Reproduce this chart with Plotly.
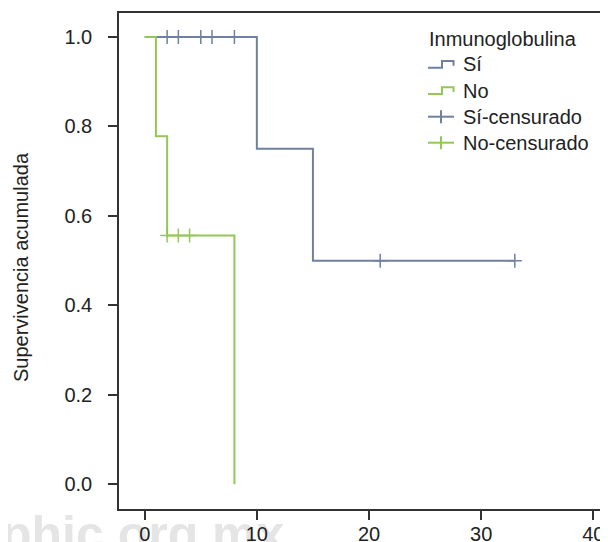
import plotly.graph_objects as go

# ---------------- data ----------------
si_time = [0, 10, 15, 33]
si_surv = [1.0, 0.75, 0.5, 0.5]
si_cens_time = [2, 3, 5, 6, 8, 21, 33]
si_cens_surv = [1.0, 1.0, 1.0, 1.0, 1.0, 0.5, 0.5]

no_time = [0, 1, 2, 8]
no_surv = [1.0, 0.778, 0.556, 0.0]
no_cens_time = [2, 3, 4]
no_cens_surv = [0.556, 0.556, 0.556]

x_tick_vals = [0, 10, 20, 30, 40]
y_tick_vals = [0.0, 0.2, 0.4, 0.6, 0.8, 1.0]
y_tick_text = ["0.0", "0.2", "0.4", "0.6", "0.8", "1.0"]

legend_title = "Inmunoglobulina"
legend_labels = ["Sí", "No", "Sí-censurado", "No-censurado"]

# ---------------- style ----------------
BLUE = "#70809E"
GREEN = "#93C857"
TXT = "#222222"
FONT = "Liberation Sans, Arial, Helvetica, sans-serif"
FS = 20

OFF = 8  # page body margin
W, H = 608 - OFF, 542 - OFF
# plot area edges in window pixels
L, R, T, B = 119, 608, 13, 509


def px(x):
    return (x - L) / (R - L)


def py(y):
    return (B - y) / (B - T)


fig = go.Figure()

fig.add_trace(go.Scatter(x=si_time, y=si_surv, mode="lines", line_shape="hv",
                         line=dict(color=BLUE, width=2), showlegend=False,
                         hoverinfo="skip"))
fig.add_trace(go.Scatter(x=no_time, y=no_surv, mode="lines", line_shape="hv",
                         line=dict(color=GREEN, width=2), showlegend=False,
                         hoverinfo="skip"))
fig.add_trace(go.Scatter(x=si_cens_time, y=si_cens_surv, mode="markers",
                         marker=dict(symbol="cross-thin", size=10,
                                     line=dict(color=BLUE, width=1.5)),
                         showlegend=False, hoverinfo="skip"))
fig.add_trace(go.Scatter(x=no_cens_time, y=no_cens_surv, mode="markers",
                         marker=dict(symbol="cross-thin", size=10,
                                     line=dict(color=GREEN, width=1.5)),
                         showlegend=False, hoverinfo="skip"))

shapes = []
annotations = []

# manual legend
leg_y = [64.3, 90.5, 116.7, 142.7]
leg_cols = [BLUE, GREEN, BLUE, GREEN]
annotations.append(dict(text=legend_title, xref="paper", yref="paper",
                        x=px(427), y=py(39), xanchor="left", yanchor="middle",
                        showarrow=False, font=dict(family=FONT, size=FS, color=TXT)))
for i, (lab, yy, col) in enumerate(zip(legend_labels, leg_y, leg_cols)):
    if i < 2:
        path = "M {} {} L {} {} L {} {} L {} {} L {} {}".format(
            px(428), py(yy + 3.4), px(442), py(yy + 3.4), px(442), py(yy - 3.3),
            px(453.5), py(yy - 3.3), px(453.5), py(yy + 1.5))
        shapes.append(dict(type="path", xref="paper", yref="paper", path=path,
                           line=dict(color=col, width=2)))
    else:
        shapes.append(dict(type="line", xref="paper", yref="paper",
                           x0=px(428), x1=px(454), y0=py(yy), y1=py(yy),
                           line=dict(color=col, width=2)))
        shapes.append(dict(type="line", xref="paper", yref="paper",
                           x0=px(441), x1=px(441), y0=py(yy - 6.5), y1=py(yy + 6.5),
                           line=dict(color=col, width=2)))
    annotations.append(dict(text=lab, xref="paper", yref="paper",
                            x=px(461), y=py(yy), xanchor="left", yanchor="middle",
                            showarrow=False, font=dict(family=FONT, size=FS, color=TXT)))

# y axis title
annotations.append(dict(text="Supervivencia acumulada", xref="paper", yref="paper",
                        x=px(21), y=py(267), xanchor="center", yanchor="middle",
                        textangle=-90, showarrow=False,
                        font=dict(family=FONT, size=FS, color=TXT)))

# faint watermark behind everything
shapes.append(dict(type="rect", xref="paper", yref="paper", layer="below",
                   x0=px(-2), x1=px(320), y0=py(499), y1=py(559),
                   line=dict(width=0), fillcolor="rgba(0,0,0,0)",
                   label=dict(text="phic.org.mx", textposition="middle left",
                              padding=0,
                              font=dict(family=FONT, size=50, color="#E5E5E5",
                                        weight="bold"))))

fig.update_layout(
    width=W, height=H,
    margin=dict(l=L - OFF, r=608 - R, t=T - OFF, b=542 - B, pad=0, autoexpand=False),
    paper_bgcolor="white", plot_bgcolor="white",
    font=dict(family=FONT, size=FS, color=TXT),
    showlegend=False,
    shapes=shapes, annotations=annotations,
    xaxis=dict(range=[-2.2916, 41.31], tickvals=x_tick_vals, automargin=False,
               ticks="outside", ticklen=9, tickwidth=1.5, tickcolor="#333333",
               showline=True, linecolor="#333333", linewidth=1.5, mirror=True,
               showgrid=False, zeroline=False, ticklabelstandoff=-3,
               tickfont=dict(family=FONT, size=FS, color=TXT)),
    yaxis=dict(range=[-0.05522, 1.05366], tickvals=y_tick_vals, ticktext=y_tick_text,
               automargin=False,
               ticks="outside", ticklen=9, tickwidth=1.5, tickcolor="#333333",
               showline=True, linecolor="#333333", linewidth=1.5, mirror=False,
               showgrid=False, zeroline=False, ticklabelstandoff=12,
               tickfont=dict(family=FONT, size=FS, color=TXT)),
)

fig.write_html("out.html")
